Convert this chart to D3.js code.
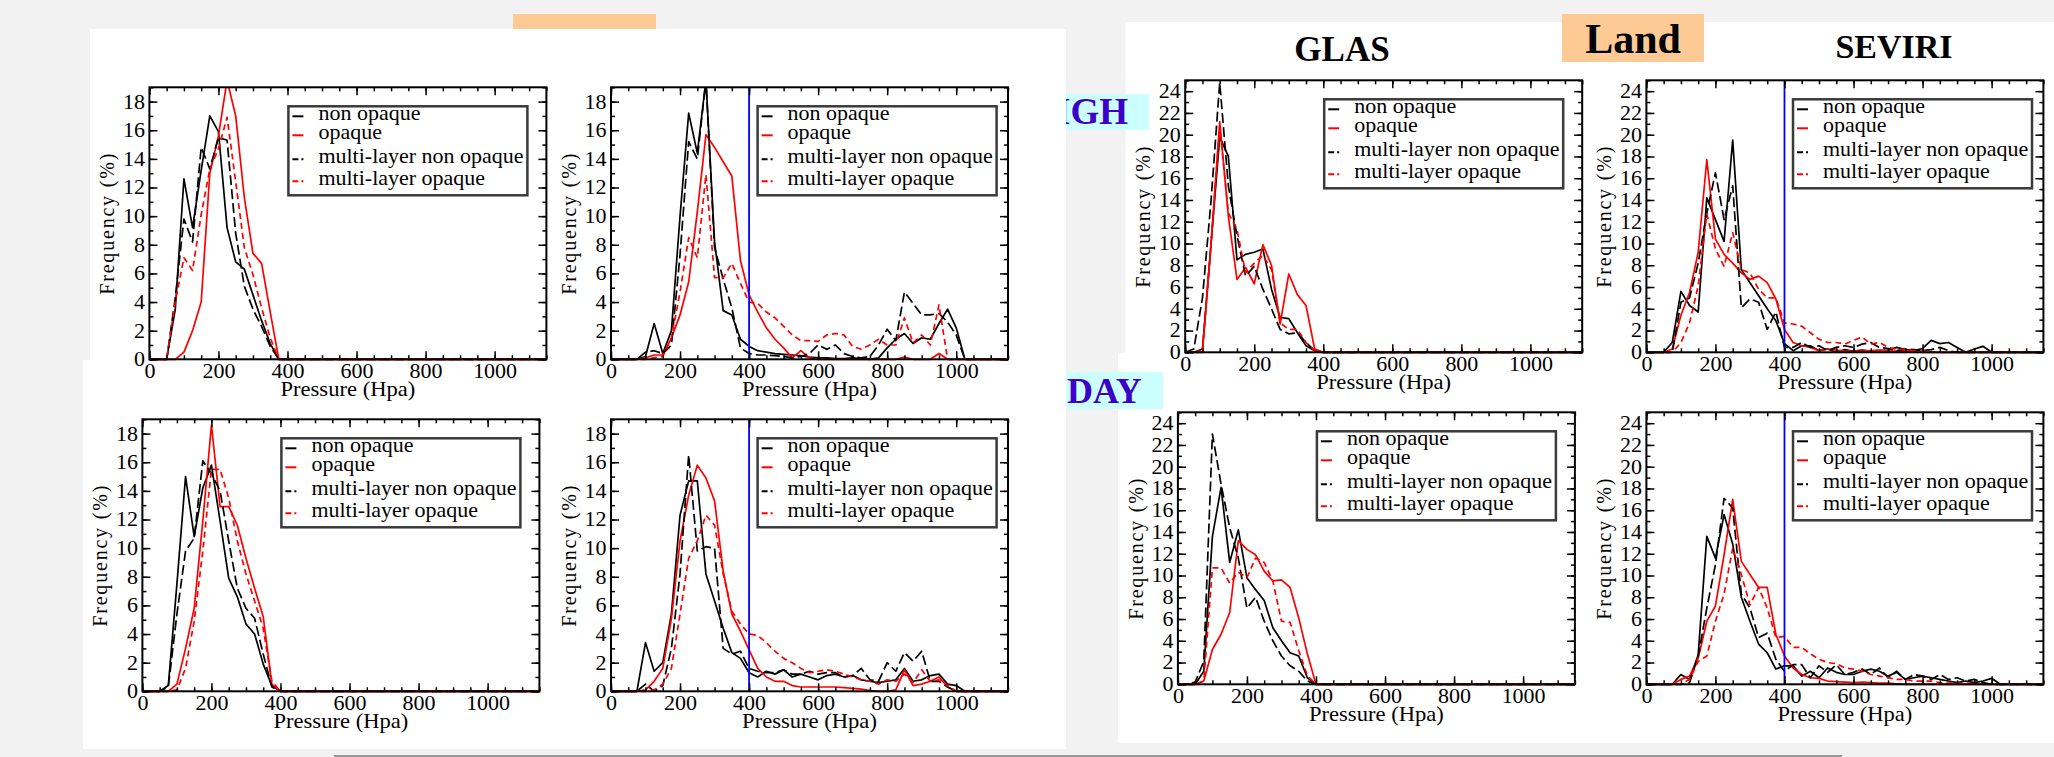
<!DOCTYPE html>
<html>
<head>
<meta charset="utf-8">
<title>Cloud top pressure frequency - Ocean / Land</title>
<script src="https://d3js.org/d3.v7.min.js"></script>
<style>
body { margin:0; background:#f2f2f2; }
svg { display:block; font-family:"Liberation Serif","Times New Roman",serif; }
</style>
</head>
<body>
<svg width="2054" height="757"></svg>
<script>
// pressure bins (hPa)
var pressure = [0,25,50,75,100,125,150,175,200,225,250,275,300,325,350,375,400,425,450,475,500,525,550,575,600,625,650,675,700,725,750,775,800,825,850,875,900,925,950,975,1000,1025,1050,1075,1100,1125,1150];
var seriesNames = ["non opaque","opaque","multi-layer non opaque","multi-layer opaque"];
var xTicks = [0,200,400,600,800,1000];

// ocean, upper row, GLAS
var oceanHighGlasNonOpaque = [0,0,0,3.5,12.6,9.2,13.2,17,15.9,9.2,6.8,6.3,4.5,2.7,1.1,0, 0,0,0,0,0,0,0,0,0,0,0,0,0,0,0, 0,0,0,0,0,0,0,0,0,0, 0,0,0,0,0,0];
var oceanHighGlasOpaque = [0,0,0,0,0.5,2,4,13,15.6,19.5,17,11.3,7.4,6.7,3.3,0, 0,0,0,0,0,0,0,0,0,0,0,0,0,0,0, 0,0,0,0,0,0,0,0,0,0, 0,0,0,0,0,0];
var oceanHighGlasMlNonOpaque = [0,0,0,4.3,9.8,8.2,14.8,13.3,15.5,15.3,8.8,5.1,3.5,2.3,0.9,0, 0,0,0,0,0,0,0,0,0,0,0,0,0,0,0, 0,0,0,0,0,0,0,0,0,0, 0,0,0,0,0,0];
var oceanHighGlasMlOpaque = [0,0,0,4,7.1,6.2,10.1,13.3,14.7,16.9,12.4,7.8,5.9,3.6,1.5,0, 0,0,0,0,0,0,0,0,0,0,0,0,0,0,0, 0,0,0,0,0,0,0,0,0,0, 0,0,0,0,0,0];

// ocean, upper row, SEVIRI
var oceanHighSeviriNonOpaque = [0,0,0,0,0.2,2.5,0.4,2,10,17.2,14.4,19.5,8.2,3.4,3.1,1.4, 0.9,0.6,0.5,0.4,0.35,0.3,0.25,0.15,0.1,0.1,0.05,0.05,0.1,0.05,0, 0.1,0.8,1.4,1.8,1.1,1.5,1.4,2.5,3.5,2.2, 0,0,0,0,0,0];
var oceanHighSeviriOpaque = [0,0,0,0,0.1,0.3,0.3,1.5,3.1,5.4,10.3,15.7,14.8,13.8,12.8,6.9, 4.5,3.3,2.2,1.4,0.8,0.1,0.6,0.1,0,0,0,0,0,0,0, 0,0,0,0.15,0,0,0,0.4,0,0, 0,0,0,0,0,0];
var oceanHighSeviriMlNonOpaque = [0,0,0,0,0.5,0.6,0.4,1.0,7.3,15.2,14,19.5,7.8,5.6,3.6,0.8, 0.4,0.3,0.3,0.25,0.2,0.1,0.2,0.4,1.0,0.7,1.0,0.4,0.2,0.1,0.2, 1.0,2.1,1.3,4.7,3.9,3.1,3.1,3.2,2.6,1.7, 0,0,0,0,0,0];
var oceanHighSeviriMlOpaque = [0,0,0,0,0,0.1,0.2,1.5,4.7,8.5,7.1,12.9,5.7,5.7,6.7,5.3, 4.0,3.9,3.3,2.9,2.3,1.7,1.3,1.3,1.25,1.7,1.8,1.7,0.9,0.7,1.0, 1.4,1.0,1.0,2.9,1.15,1.7,1.0,3.8,0,0, 0,0,0,0,0,0];

// ocean, lower row, GLAS
var oceanDayGlasNonOpaque = [0,0,0,0.4,7.5,15.0,10.8,14.2,15.8,11.9,7.9,6.6,4.7,4.0,1.9,0.4, 0,0,0,0,0,0,0,0,0,0,0,0,0,0,0, 0,0,0,0,0,0,0,0,0,0, 0,0,0,0,0,0];
var oceanDayGlasOpaque = [0,0,0,0,0.5,3.0,5.8,11.9,18.6,12.9,12.9,11.6,9.3,7.2,5.2,0.5, 0,0,0,0,0,0,0,0,0,0,0,0,0,0,0, 0,0,0,0,0,0,0,0,0,0, 0,0,0,0,0,0];
var oceanDayGlasMlNonOpaque = [0,0,0,0.3,5.4,9.8,10.7,16.1,15.2,14.0,10.5,7.2,5.8,5.1,2.6,0.3, 0,0,0,0,0,0,0,0,0,0,0,0,0,0,0, 0,0,0,0,0,0,0,0,0,0, 0,0,0,0,0,0];
var oceanDayGlasMlOpaque = [0,0,0,0,0.1,1.6,4.9,9.8,15.5,15.5,13.5,10.5,8.2,6.3,4.4,0.7, 0,0,0,0,0,0,0,0,0,0,0,0,0,0,0, 0,0,0,0,0,0,0,0,0,0, 0,0,0,0,0,0];

// ocean, lower row, SEVIRI
var oceanDaySeviriNonOpaque = [0,0,0,0,3.4,1.4,2.0,5.4,12.3,14.7,14.7,8.2,6.3,4.4,2.7,2.3, 1.3,1.0,1.4,1.2,1.5,1.0,1.2,1.0,0.8,1.1,1.2,1.0,1.1,0.8,0.7, 0.6,0.7,0.8,1.6,0.7,0.8,1.1,1.2,0.5,0.4, 0,0,0,0,0,0];
var oceanDaySeviriOpaque = [0,0,0,0,0.1,0.7,1.6,5.1,10.5,13.7,15.8,14.9,13.3,8.4,5.4,4.2, 2.9,1.6,1.0,0.7,0.7,0.4,0.3,0.3,0.3,0.3,0.3,0.25,0.2,0.15,0.05, 0,0,0.1,1.5,0.4,0.5,0.7,1.0,0.3,0, 0,0,0,0,0,0];
var oceanDaySeviriMlNonOpaque = [0,0,0,0,0.5,0,0.4,3.0,8.2,16.5,9.8,10.1,10.0,3.0,2.6,2.8, 1.6,1.4,1.3,1.3,1.5,1.2,1.2,1.4,1.2,1.3,1.3,1.0,1.1,1.6,0.8, 0.7,2.0,1.4,2.7,2.1,2.8,0.7,0.7,0.3,0, 0,0,0,0,0,0];
var oceanDaySeviriMlOpaque = [0,0,0,0,0,0.1,0.5,1.6,5.4,9.3,10.5,12.3,11.6,8.2,5.6,4.7, 4.0,3.9,3.4,2.8,2.3,2.0,1.6,1.3,1.4,1.5,1.4,1.2,1.0,0.8,0.7, 0.5,0.8,0.7,1.2,0.6,1.5,0.7,0.8,0.4,0, 0,0,0,0,0,0];

// land, upper row, GLAS
var landHighGlasNonOpaque = [0,0,0.3,10,19.8,18.0,8.5,9.0,9.2,9.5,5.8,3.2,3.1,1.8,0.6,0.15, 0,0,0,0,0,0,0,0,0,0,0,0,0,0,0, 0,0,0,0,0,0,0,0,0,0, 0,0,0,0,0,0];
var landHighGlasOpaque = [0,0,0,10,21.2,12.5,6.7,7.8,6.3,9.9,8.0,2.6,7.2,5.3,4.3,0.3, 0,0,0,0,0,0,0,0,0,0,0,0,0,0,0, 0,0,0,0,0,0,0,0,0,0, 0,0,0,0,0,0];
var landHighGlasMlNonOpaque = [0,0.3,5,14,24.8,15.3,10.7,7.0,7.9,5.8,4.0,2.1,1.7,1.8,0.9,0.15, 0,0,0,0,0,0,0,0,0,0,0,0,0,0,0, 0,0,0,0,0,0,0,0,0,0, 0,0,0,0,0,0];
var landHighGlasMlOpaque = [0,0,0.2,10,20.8,12.8,11.3,7.3,8.2,8.9,7.6,2.7,2.1,2.1,0.9,0.15, 0,0,0,0,0,0,0,0,0,0,0,0,0,0,0, 0,0,0,0,0,0,0,0,0,0, 0,0,0,0,0,0];

// land, upper row, SEVIRI
var landHighSeviriNonOpaque = [0,0,0,0.9,5.6,4.3,3.7,14.2,12.2,10.2,19.5,7.6,6.4,5.2,4.0,2.9, 0.8,0.15,0.6,0.6,0.15,0.3,0,0.25,0.1,0.2,0.1,0.15,0.2,0.45,0.25, 0.15,0.35,1.1,0.8,0.9,0.45,0,0.3,0.55,0, 0,0,0,0,0,0];
var landHighSeviriOpaque = [0,0,0,0.3,3.4,5.5,9.2,17.7,10.4,9.0,8.2,7.3,6.7,7.0,6.4,4.9, 2.1,0.9,0.6,0.45,0.15,0.3,0.2,0.1,0.1,0.1,0.15,0.2,0.1,0.1,0.15, 0.05,0,0,0,0,0,0,0,0,0, 0,0,0,0,0,0];
var landHighSeviriMlNonOpaque = [0,0,0,0,4.6,5.0,8.2,12.8,16.5,12.2,15.3,4.1,4.9,4.6,2.1,3.7, 0.45,0.45,0.9,0.45,0.6,0.15,0.45,0.6,0.45,0.75,0.9,0.45,0.35,0.15,0.3, 0.25,0.15,0.25,0.45,0.15,0,0,0,0,0, 0,0,0,0,0,0];
var landHighSeviriMlOpaque = [0,0,0,0,0.9,2.7,6.1,12.7,9.5,7.9,11.0,7.6,7.3,5.8,5.0,5.0, 2.7,2.6,2.4,1.8,1.2,0.9,0.9,0.75,1.1,1.4,0.75,0.9,0.45,0.3,0.25, 0.15,0.1,0.05,0,0,0,0,0,0,0, 0,0,0,0,0,0];

// land, lower row, GLAS
var landDayGlasNonOpaque = [0,0,0,1.2,13.6,18.1,11.2,14.2,9.8,8.7,7.7,5.2,4.0,2.9,2.6,0.6, 0,0,0,0,0,0,0,0,0,0,0,0,0,0,0, 0,0,0,0,0,0,0,0,0,0, 0,0,0,0,0,0];
var landDayGlasOpaque = [0,0,0,0.3,3.2,4.6,6.6,13.2,12.4,11.9,10.4,9.5,9.6,8.9,6.1,2.8, 0,0,0,0,0,0,0,0,0,0,0,0,0,0,0, 0,0,0,0,0,0,0,0,0,0, 0,0,0,0,0,0];
var landDayGlasMlNonOpaque = [0,0,0.2,2.1,23.0,18.4,14.4,11.6,7.0,8.0,5.8,4.0,2.6,1.7,1.2,0.3, 0,0,0,0,0,0,0,0,0,0,0,0,0,0,0, 0,0,0,0,0,0,0,0,0,0, 0,0,0,0,0,0];
var landDayGlasMlOpaque = [0,0,0,0.3,10.7,10.7,9.3,10.3,9.8,11.6,11.2,9.5,5.8,5.7,3.1,0.8, 0,0,0,0,0,0,0,0,0,0,0,0,0,0,0, 0,0,0,0,0,0,0,0,0,0, 0,0,0,0,0,0];

// land, lower row, SEVIRI
var landDaySeviriNonOpaque = [0,0,0,0,0.9,0.45,2.7,13.6,11.6,15.6,12.9,8.0,5.8,3.7,2.9,1.4, 1.7,1.7,0.75,1.2,0.6,1.5,1.1,0.9,0.9,1.2,1.4,1.2,0.75,1.1,0.45, 0.6,0.75,0.6,0.45,0.3,0.15,0.3,0.15,0.3,0.55, 0,0,0,0,0,0];
var landDaySeviriOpaque = [0,0,0,0,0.45,0.75,2.4,5.8,7.2,11.9,17.0,11.3,10.1,8.9,8.9,4.6, 2.6,1.5,0.9,0.6,0.55,0.3,0.25,0.2,0.15,0.2,0.15,0.1,0.1,0.05,0, 0,0,0,0,0,0,0,0,0,0, 0,0,0,0,0,0];
var landDaySeviriMlNonOpaque = [0,0,0,0,0,0.15,2.6,7.0,11.0,17.1,16.2,8.3,7.0,4.3,4.7,2.3, 1.2,1.8,1.8,0.6,1.7,1.1,1.8,0.9,1.1,1.4,0.9,1.5,0.6,1.2,0.45, 0.9,0.75,0.45,0.9,0.45,0.6,0.3,0.45,0.15,0, 0,0,0,0,0,0];
var landDaySeviriMlOpaque = [0,0,0,0,0,0.45,2.1,2.6,5.8,8.3,12.5,10.1,7.3,8.9,7.0,4.3, 4.4,3.4,3.4,2.8,2.3,2.0,1.9,1.5,1.4,1.2,0.9,0.75,0.6,0.45,0.45, 0.3,0.3,0.3,0.15,0.1,0.1,0.1,0.05,0,0, 0,0,0,0,0,0];

var lineStyles = [
  {color:"#000", dash:null},
  {color:"#ff0000", dash:null},
  {color:"#000", dash:"10,4"},
  {color:"#ff0000", dash:"6,4"}
];

var panels = [
  {x:149.4, y:87.3, ymax:19, blue:false, legX:139, series:[oceanHighGlasNonOpaque,oceanHighGlasOpaque,oceanHighGlasMlNonOpaque,oceanHighGlasMlOpaque]},
  {x:611, y:87.3, ymax:19, blue:true, legX:146.6, series:[oceanHighSeviriNonOpaque,oceanHighSeviriOpaque,oceanHighSeviriMlNonOpaque,oceanHighSeviriMlOpaque]},
  {x:142.4, y:419.3, ymax:19, blue:false, legX:139, series:[oceanDayGlasNonOpaque,oceanDayGlasOpaque,oceanDayGlasMlNonOpaque,oceanDayGlasMlOpaque]},
  {x:611, y:419.3, ymax:19, blue:true, legX:146.6, series:[oceanDaySeviriNonOpaque,oceanDaySeviriOpaque,oceanDaySeviriMlNonOpaque,oceanDaySeviriMlOpaque]},
  {x:1185.2, y:80.3, ymax:25, blue:false, legX:139, series:[landHighGlasNonOpaque,landHighGlasOpaque,landHighGlasMlNonOpaque,landHighGlasMlOpaque]},
  {x:1646.4, y:80.3, ymax:25, blue:true, legX:146.6, series:[landHighSeviriNonOpaque,landHighSeviriOpaque,landHighSeviriMlNonOpaque,landHighSeviriMlOpaque]},
  {x:1177.9, y:412.3, ymax:25, blue:false, legX:139, series:[landDayGlasNonOpaque,landDayGlasOpaque,landDayGlasMlNonOpaque,landDayGlasMlOpaque]},
  {x:1646.4, y:412.3, ymax:25, blue:true, legX:146.6, series:[landDaySeviriNonOpaque,landDaySeviriOpaque,landDaySeviriMlNonOpaque,landDaySeviriMlOpaque]}
];

var svg = d3.select("svg");
var defs = svg.append("defs");

svg.append("rect").attr("width",2054).attr("height",757).attr("fill","#f2f2f2");

// hidden "Ocean" tag behind the left sheet
svg.append("rect").attr("x",513).attr("y",14).attr("width",143).attr("height",20).attr("fill","#fdc995");

// right sheet
svg.append("rect").attr("x",1125.6).attr("y",22).attr("width",930).attr("height",331).attr("fill","#fff");
svg.append("rect").attr("x",1118).attr("y",352.7).attr("width",940).attr("height",390).attr("fill","#fff");

// row tags
svg.append("rect").attr("x",1030).attr("y",94).attr("width",119).attr("height",36).attr("fill","#ccffff");
svg.append("text").attr("x",1128).attr("y",124).attr("text-anchor","end")
  .attr("font-size",37).attr("font-weight","bold").attr("fill","#3c00c8").text("HIGH");
svg.append("rect").attr("x",1030).attr("y",372).attr("width",133).attr("height",37).attr("fill","#ccffff");
svg.append("text").attr("x",1067).attr("y",402.5)
  .attr("font-size",36).attr("font-weight","bold").attr("fill","#3c00c8").text("DAY");

// left sheet
svg.append("rect").attr("x",90).attr("y",29).attr("width",976).attr("height",331).attr("fill","#fff");
svg.append("rect").attr("x",83).attr("y",360).attr("width",983).attr("height",389).attr("fill","#fff");

// Land tag and column titles
svg.append("rect").attr("x",1562).attr("y",14).attr("width",142).attr("height",48).attr("fill","#fdc995");
svg.append("text").attr("x",1633).attr("y",53).attr("text-anchor","middle")
  .attr("font-size",42).attr("font-weight","bold").text("Land");
svg.append("text").attr("x",1342).attr("y",61).attr("text-anchor","middle")
  .attr("font-size",35).attr("font-weight","bold").text("GLAS");
svg.append("text").attr("x",1894).attr("y",58).attr("text-anchor","middle")
  .attr("font-size",34).attr("font-weight","bold").text("SEVIRI");

var W = 397, H = 272;
var legRows = [14,33,57,79];

function styleAxis(sel) {
  sel.attr("font-family","Liberation Serif").attr("font-size",20);
  sel.select(".domain").remove();
  sel.selectAll(".tick line").attr("stroke","#000").attr("stroke-width",1.5);
  sel.selectAll(".tick text").attr("fill","#000").attr("transform","scale(1.1,1)");
}

panels.forEach(function(p, pi) {
  var g = svg.append("g").attr("transform","translate("+p.x+","+p.y+")");
  var x = d3.scaleLinear().domain([0,1150]).range([0,W]);
  var y = d3.scaleLinear().domain([0,p.ymax]).range([H,0]);

  defs.append("clipPath").attr("id","clip"+pi)
    .append("rect").attr("x",0).attr("y",0).attr("width",W).attr("height",H+2);

  var line = d3.line().x(function(d,i){ return x(pressure[i]); }).y(function(d){ return y(d); });
  var plot = g.append("g").attr("clip-path","url(#clip"+pi+")");
  p.series.forEach(function(s,k) {
    plot.append("path").attr("d",line(s)).attr("fill","none")
      .attr("stroke",lineStyles[k].color).attr("stroke-width",1.7)
      .attr("stroke-linejoin","round")
      .attr("stroke-dasharray",lineStyles[k].dash);
  });
  if (p.blue) {
    g.append("line").attr("x1",x(400)).attr("x2",x(400)).attr("y1",0).attr("y2",H)
      .attr("stroke","#0000ff").attr("stroke-width",1.8);
  }

  var minorX = d3.range(0,1151,50), minorY = d3.range(0,p.ymax+0.1,1), majorY = d3.range(0,p.ymax+0.1,2);

  g.append("g").attr("transform","translate(0,"+H+")")
    .call(d3.axisBottom(x).tickValues(minorX).tickSize(-4).tickFormat("")).call(styleAxis);
  g.append("g").attr("transform","translate(0,"+H+")")
    .call(d3.axisBottom(x).tickValues(xTicks).tickSize(-8).tickPadding(5).tickFormat(d3.format("d"))).call(styleAxis);
  g.append("g").call(d3.axisTop(x).tickValues(minorX).tickSize(-4).tickFormat("")).call(styleAxis);
  g.append("g").call(d3.axisTop(x).tickValues(xTicks).tickSize(-8).tickFormat("")).call(styleAxis);

  g.append("g").call(d3.axisLeft(y).tickValues(minorY).tickSize(-4).tickFormat("")).call(styleAxis);
  g.append("g").call(d3.axisLeft(y).tickValues(majorY).tickSize(-8).tickPadding(4).tickFormat(d3.format("d"))).call(styleAxis);
  g.append("g").attr("transform","translate("+W+",0)")
    .call(d3.axisRight(y).tickValues(minorY).tickSize(-4).tickFormat("")).call(styleAxis);
  g.append("g").attr("transform","translate("+W+",0)")
    .call(d3.axisRight(y).tickValues(majorY).tickSize(-8).tickFormat("")).call(styleAxis);

  g.append("rect").attr("width",W).attr("height",H).attr("fill","none")
    .attr("stroke","#000").attr("stroke-width",2);

  g.append("text").attr("transform","translate("+(W/2)+","+(H+37)+") scale(1.13,1)")
    .attr("text-anchor","middle").attr("font-size",20).text("Pressure (Hpa)");
  g.append("text").attr("transform","translate(-35,"+(H/2)+") rotate(-90)")
    .attr("text-anchor","middle").attr("font-size",20).attr("letter-spacing",1.8).text("Frequency (%)");

  var lg = g.append("g").attr("transform","translate("+p.legX+",19)");
  lg.append("rect").attr("width",239).attr("height",89).attr("fill","#fff")
    .attr("stroke","#3a3a3a").attr("stroke-width",2.5);
  seriesNames.forEach(function(n,k) {
    lg.append("line").attr("x1",4).attr("x2",15).attr("y1",legRows[k]-4).attr("y2",legRows[k]-4)
      .attr("stroke",lineStyles[k].color).attr("stroke-width",2)
      .attr("stroke-dasharray", k >= 2 ? "6,3" : null);
    lg.append("text").attr("transform","translate(30,"+legRows[k]+") scale(1.1,1)")
      .attr("font-size",20).text(n);
  });
});

svg.append("line").attr("x1",334).attr("x2",1842).attr("y1",756).attr("y2",756)
  .attr("stroke","#999").attr("stroke-width",2);
</script>
</body>
</html>
